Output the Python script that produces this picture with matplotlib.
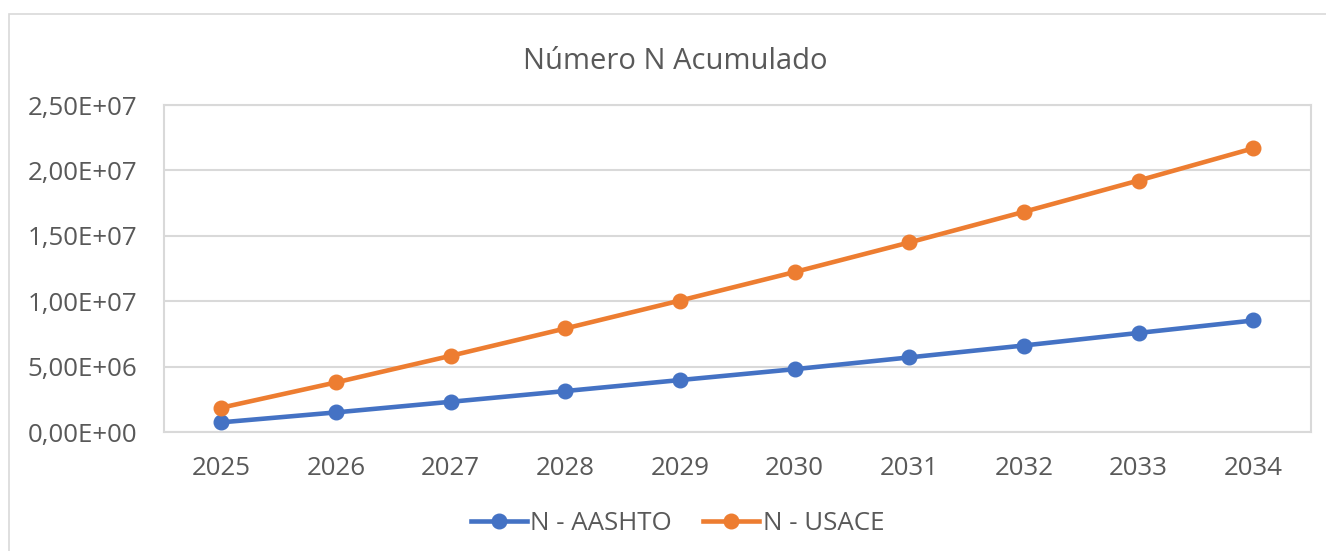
import matplotlib
matplotlib.use("Agg")
import matplotlib.pyplot as plt
from matplotlib.ticker import FuncFormatter, MultipleLocator
from matplotlib.lines import Line2D
from matplotlib.patches import Rectangle

# Accumulated N number per design year
years = [2025, 2026, 2027, 2028, 2029, 2030, 2031, 2032, 2033, 2034]
n_aashto = [0.76e6, 1.52e6, 2.33e6, 3.15e6, 3.99e6, 4.82e6, 5.72e6, 6.63e6, 7.59e6, 8.54e6]
n_usace = [1.88e6, 3.81e6, 5.84e6, 7.93e6, 10.06e6, 12.24e6, 14.50e6, 16.84e6, 19.23e6, 21.69e6]
series_names = ["N - AASHTO", "N - USACE"]
title = "Número N Acumulado"

BLUE = "#4472C4"
ORANGE = "#ED7D31"
GRID = "#D9D9D9"
TEXT = "#595959"

plt.rcParams["font.family"] = ["Open Sans", "DejaVu Sans"]

W, H = 1326, 551
fig = plt.figure(figsize=(W / 100, H / 100), dpi=100)

# chart-area frame
fig.patches.append(Rectangle((9 / W, -0.1), 1.2, (H - 14) / H + 0.1,
                             transform=fig.transFigure, fill=False,
                             edgecolor=GRID, linewidth=1.2, zorder=0))

ax = fig.add_axes([164 / W, 1 - 432.3 / H, (1310.5 - 164) / W, (432.3 - 105) / H])

x = list(range(len(years)))
lw = 3.3
ms = 10.5
ax.plot(x, n_aashto, color=BLUE, lw=lw, marker="o", ms=ms, zorder=3,
        solid_capstyle="round")
ax.plot(x, n_usace, color=ORANGE, lw=lw, marker="o", ms=ms, zorder=3,
        solid_capstyle="round")

ax.set_xlim(-0.5, len(years) - 0.5)
ax.set_ylim(0, 2.5e7)
ax.yaxis.set_major_locator(MultipleLocator(5e6))
ax.yaxis.set_major_formatter(FuncFormatter(lambda v, p: f"{v:.2E}".replace(".", ",")))
ax.set_xticks(x)
ax.set_xticklabels([str(y) for y in years])

ax.grid(axis="y", color=GRID, linewidth=1.5, zorder=0)
for s in ax.spines.values():
    s.set_color(GRID)
    s.set_linewidth(1.5)
ax.tick_params(axis="both", length=0, labelsize=18.6, colors=TEXT)
ax.tick_params(axis="y", pad=19.5)
ax.tick_params(axis="x", pad=17)

fig.text(675 / W, 1 - 69 / H, title, ha="center", va="baseline",
         fontsize=21, color=TEXT)

handles = [Line2D([0], [0], color=c, lw=lw, marker="o", ms=ms)
           for c in (BLUE, ORANGE)]
fig.legend(handles, series_names, loc="center",
           bbox_to_anchor=(677.5 / W, 1 - 524 / H), ncol=2, frameon=False,
           fontsize=18.6, labelcolor=TEXT, handlelength=2.15,
           handletextpad=0.15, columnspacing=1.2)

fig.savefig("out.png", dpi=100)
